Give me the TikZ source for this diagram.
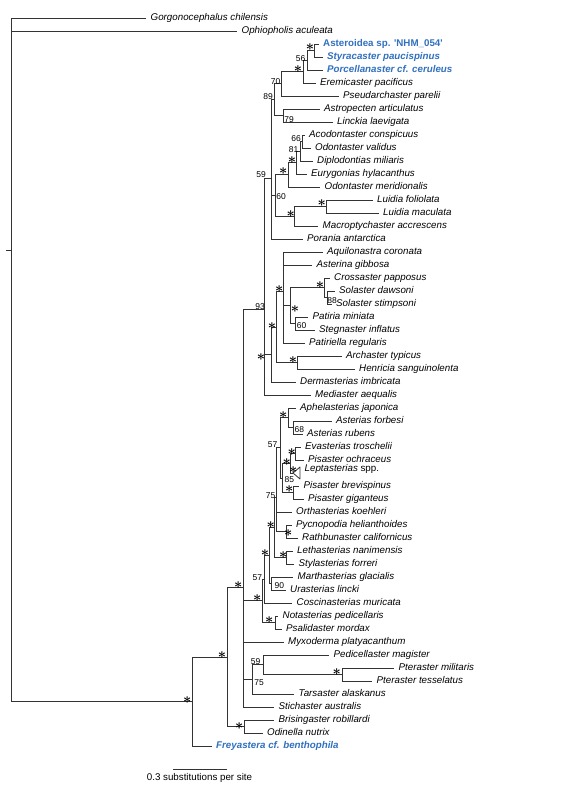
\documentclass[tikz,border=0pt]{standalone}
\usepackage{fontspec}
\newfontfamily\tx{Liberation Sans}
\definecolor{hiblue}{RGB}{48,112,190}

\begin{document}
\begin{tikzpicture}[x=1bp,y=-1bp,
branch/.style={line width=0.8bp,black!80},
taxon/.style={anchor=west,inner xsep=4.5bp,inner ysep=0pt,text height=7.3bp,text depth=2.1bp,font=\tx\fontsize{9.8}{11}\selectfont\itshape},
hitaxon/.style={taxon,text=hiblue,font=\tx\fontsize{9.8}{11}\selectfont\bfseries\itshape},
bs/.style={inner sep=0pt,font=\tx\fontsize{8.5}{9}\selectfont},
st/.style={inner sep=0pt,font=\fontsize{14}{14}\selectfont\boldmath}]

\useasboundingbox (0,0) rectangle (563,811);

% internal nodes
\coordinate (root) at (11,250.2);
\coordinate (n192) at (192,701.55);
\coordinate (n227) at (227.5,657.1);
\coordinate (nBO) at (244,726.5);
\coordinate (n243) at (243,587.7);
\coordinate (n75) at (252,679.4);
\coordinate (n59b) at (263,664.75);
\coordinate (nPt) at (342,674.5);
\coordinate (n93) at (264,309.2);
\coordinate (n59) at (271,178.1);
\coordinate (n89) at (274,99.7);
\coordinate (n70) at (281,83.8);
\coordinate (n303) at (303.3,71.6);
\coordinate (n56) at (307,60.25);
\coordinate (nAS) at (314,50.5);
\coordinate (n79) at (283.3,115.5);
\coordinate (n60) at (275,195.5);
\coordinate (n288) at (288.3,174.8);
\coordinate (n297) at (296.7,162.6);
\coordinate (n81) at (300,151.25);
\coordinate (n66) at (302.5,141.5);
\coordinate (nLM) at (294.3,216.25);
\coordinate (nLu) at (326,206.5);
\coordinate (nX) at (271,354.5);
\coordinate (nY) at (276.7,327);
\coordinate (nZ) at (283.3,291.4);
\coordinate (nW) at (290,305.6);
\coordinate (nC) at (324.5,287.75);
\coordinate (nSol) at (327.5,297.5);
\coordinate (nPS) at (295,323.5);
\coordinate (nAH) at (297.3,362.5);
\coordinate (n1) at (262,600.85);
\coordinate (n2) at (264,579.2);
\coordinate (n3) at (269.3,555.4);
\coordinate (n4) at (274,527.3);
\coordinate (nS) at (276,497.1);
\coordinate (nR) at (280,447.8);
\coordinate (nAA) at (288.3,417.75);
\coordinate (nAst) at (293.3,427.5);
\coordinate (nP) at (282.7,477.9);
\coordinate (nQ) at (290,463.25);
\coordinate (nEP) at (295,453.5);
\coordinate (nBG) at (293.3,492.5);
\coordinate (nPR) at (286.5,531.5);
\coordinate (nLS) at (286,557.5);
\coordinate (nMU) at (271.7,583.5);
\coordinate (nNP) at (275,622.5);
\coordinate (lep) at (293,473);

% taxa
\node[taxon] (gor) at (146,18) {Gorgonocephalus chilensis};
\node[taxon] (oph) at (237,31) {Ophiopholis aculeata};
\node[hitaxon] (ast) at (318.5,44) {\upshape Asteroidea sp. \textquotesingle NHM\_054\textquotesingle};
\node[hitaxon] (sty) at (322.5,57) {Styracaster paucispinus};
\node[hitaxon] (por) at (322.5,70) {Porcellanaster cf. ceruleus};
\node[taxon] (ere) at (315.5,83) {Eremicaster pacificus};
\node[taxon] (pse) at (338.5,96) {Pseudarchaster parelii};
\node[taxon] (apc) at (319.5,109) {Astropecten articulatus};
\node[taxon] (lin) at (332.5,122) {Linckia laevigata};
\node[taxon] (aco) at (304.5,135) {Acodontaster conspicuus};
\node[taxon] (odv) at (310.5,148) {Odontaster validus};
\node[taxon] (dip) at (312.5,161) {Diplodontias miliaris};
\node[taxon] (eur) at (306.5,174) {Eurygonias hylacanthus};
\node[taxon] (odm) at (320,187) {Odontaster meridionalis};
\node[taxon] (luf) at (372.5,200) {Luidia foliolata};
\node[taxon] (lum) at (378.5,213) {Luidia maculata};
\node[taxon] (mac) at (318,226) {Macroptychaster accrescens};
\node[taxon] (pan) at (302.5,239) {Porania antarctica};
\node[taxon] (aqu) at (322.5,252) {Aquilonastra coronata};
\node[taxon] (asg) at (312,265) {Asterina gibbosa};
\node[taxon] (cro) at (329.5,278) {Crossaster papposus};
\node[taxon] (sod) at (334.5,291) {Solaster dawsoni};
\node[taxon] (sos) at (331.5,304) {Solaster stimpsoni};
\node[taxon] (pmi) at (308,317) {Patiria miniata};
\node[taxon] (ste) at (314.5,330) {Stegnaster inflatus};
\node[taxon] (pre) at (304.5,343) {Patiriella regularis};
\node[taxon] (arc) at (341.5,356) {Archaster typicus};
\node[taxon] (hen) at (354.5,369) {Henricia sanguinolenta};
\node[taxon] (der) at (295.5,382) {Dermasterias imbricata};
\node[taxon] (med) at (310.5,395) {Mediaster aequalis};
\node[taxon] (aph) at (295.5,408) {Aphelasterias japonica};
\node[taxon] (asf) at (331.5,421) {Asterias forbesi};
\node[taxon] (asr) at (302.5,434) {Asterias rubens};
\node[taxon] (eva) at (300.5,447) {Evasterias troschelii};
\node[taxon] (poc) at (303.5,460) {Pisaster ochraceus};
\node[taxon] (lepl) at (300,468.5) {Leptasterias {\upshape spp.}};
\node[taxon] (pbr) at (299,486) {Pisaster brevispinus};
\node[taxon] (pgi) at (303.5,499) {Pisaster giganteus};
\node[taxon] (ort) at (291.5,512) {Orthasterias koehleri};
\node[taxon] (pyc) at (291.5,525) {Pycnopodia helianthoides};
\node[taxon] (rat) at (297.5,538) {Rathbunaster californicus};
\node[taxon] (let) at (292.5,551) {Lethasterias nanimensis};
\node[taxon] (stf) at (294,564) {Stylasterias forreri};
\node[taxon] (mar) at (293,577) {Marthasterias glacialis};
\node[taxon] (ura) at (285.5,590) {Urasterias lincki};
\node[taxon] (cos) at (292,603) {Coscinasterias muricata};
\node[taxon] (nts) at (278,616) {Notasterias pedicellaris};
\node[taxon] (psa) at (281.5,629) {Psalidaster mordax};
\node[taxon] (myx) at (283.5,642) {Myxoderma platyacanthum};
\node[taxon] (ped) at (329,655) {Pedicellaster magister};
\node[taxon] (ptm) at (394,668) {Pteraster militaris};
\node[taxon] (ptt) at (372,681) {Pteraster tesselatus};
\node[taxon] (tar) at (294,694) {Tarsaster alaskanus};
\node[taxon] (sti) at (274,707) {Stichaster australis};
\node[taxon] (bri) at (274,720) {Brisingaster robillardi};
\node[taxon] (odi) at (262.5,733) {Odinella nutrix};
\node[hitaxon] (fre) at (211.5,746) {Freyastera cf. benthophila};

% branches
\foreach \a/\b in {root/gor,root/oph,root/n192,n192/n227,n192/fre,n227/n243,n227/nBO,
  nBO/bri,nBO/odi,n243/n93,n243/n1,n243/myx,n243/n75,n243/sti,n75/n59b,n75/tar,
  n59b/ped,n59b/nPt,nPt/ptm,nPt/ptt,n93/n59,n93/nX,n93/med,n59/n89,n59/n60,n59/pan,
  n89/n70,n89/n79,n70/n303,n70/pse,n303/n56,n303/ere,n56/nAS,n56/por,nAS/ast,nAS/sty,
  n79/apc,n79/lin,n60/n288,n60/nLM,n288/n297,n288/odm,n297/n81,n297/eur,n81/n66,n81/dip,
  n66/aco,n66/odv,nLM/nLu,nLM/mac,nLu/luf,nLu/lum,nX/nY,nX/der,nY/nZ,nY/nAH,
  nZ/aqu,nZ/asg,nZ/nW,nZ/pre,nW/nC,nW/nPS,nC/cro,nC/nSol,nSol/sod,nSol/sos,nPS/pmi,nPS/ste,
  nAH/arc,nAH/hen,n1/n2,n1/nNP,n2/n3,n2/cos,n3/n4,n3/nMU,n4/nS,n4/nLS,nS/nR,nS/ort,nS/nPR,
  nR/nAA,nR/nP,nAA/aph,nAA/nAst,nAst/asf,nAst/asr,nP/nQ,nP/nBG,nQ/nEP,nQ/lep,nEP/eva,nEP/poc,
  nBG/pbr,nBG/pgi,nPR/pyc,nPR/rat,nLS/let,nLS/stf,nMU/mar,nMU/ura,nNP/nts,nNP/psa}
  \draw[branch] (\a) |- (\b);
\draw[branch] (root) -- ++(-5,0);
\draw[branch,line join=round] (lep) -- ++(7,-6) -- ++(0,12) -- cycle;

% support values
\node[st] (sAS) at (310,47.5) {$\ast$};
\node[bs] (s56) at (300.5,58.5) {56};
\node[st] (s303) at (298,69.5) {$\ast$};
\node[bs] (s70) at (275.5,81.5) {70};
\node[bs] (s89) at (268,97) {89};
\node[bs] (s79) at (289,119.5) {79};
\node[bs] (s66) at (296,139) {66};
\node[bs] (s81) at (293.5,150) {81};
\node[st] (s297) at (292,160.5) {$\ast$};
\node[st] (s288) at (283.3,171) {$\ast$};
\node[bs] (s59) at (261,175) {59};
\node[bs] (s60) at (281,196.5) {60};
\node[st] (sLu) at (321.7,203.5) {$\ast$};
\node[st] (sLM) at (290.7,214) {$\ast$};
\node[bs] (s93) at (260,307) {93};
\node[st] (sZ) at (279.3,289) {$\ast$};
\node[st] (sC) at (320,285.5) {$\ast$};
\node[bs] (sSol) at (332,301) {88};
\node[st] (sW) at (295,309) {$\ast$};
\node[bs] (sPS) at (301.5,326) {60};
\node[st] (sY) at (272,326) {$\ast$};
\node[st] (sX) at (261,357) {$\ast$};
\node[st] (sAH) at (293,360) {$\ast$};
\node[st] (sAA) at (283.3,415) {$\ast$};
\node[bs] (sAst) at (299.3,430) {68};
\node[bs] (sR) at (272.7,445) {57};
\node[st] (sEP) at (291.7,451.7) {$\ast$};
\node[st] (sQ) at (286.7,461.7) {$\ast$};
\node[st] (slep) at (293.3,470) {$\ast$};
\node[bs] (sP) at (289.3,480) {85};
\node[st] (sBG) at (289.3,489.5) {$\ast$};
\node[bs] (sS) at (270.7,496) {75};
\node[st] (s4) at (270.7,525) {$\ast$};
\node[st] (sPR) at (288.3,533.3) {$\ast$};
\node[st] (s3) at (265,553.3) {$\ast$};
\node[st] (sLS) at (283.3,555) {$\ast$};
\node[bs] (s2) at (257.3,577.3) {57};
\node[bs] (sMU) at (279.3,585.7) {90};
\node[st] (s1) at (257.3,598.3) {$\ast$};
\node[st] (s243) at (238.3,585) {$\ast$};
\node[st] (sNP) at (269.3,620) {$\ast$};
\node[st] (s227) at (222,655) {$\ast$};
\node[bs] (s59b) at (255.7,661.7) {59};
\node[bs] (s75) at (259,682.7) {75};
\node[st] (sPt) at (336.7,672.3) {$\ast$};
\node[st] (sBO) at (239.3,726) {$\ast$};
\node[st] (s192) at (187.3,700) {$\ast$};

% scale bar
\coordinate (sbl) at (173,769);
\coordinate (sbr) at (227,769);
\draw[branch] (sbl) -- (sbr);
\node[anchor=base,inner sep=0pt,font=\tx\fontsize{9.8}{11}\selectfont] (sbt) at (199.5,780) {0.3 substitutions per site};
\end{tikzpicture}
\end{document}
